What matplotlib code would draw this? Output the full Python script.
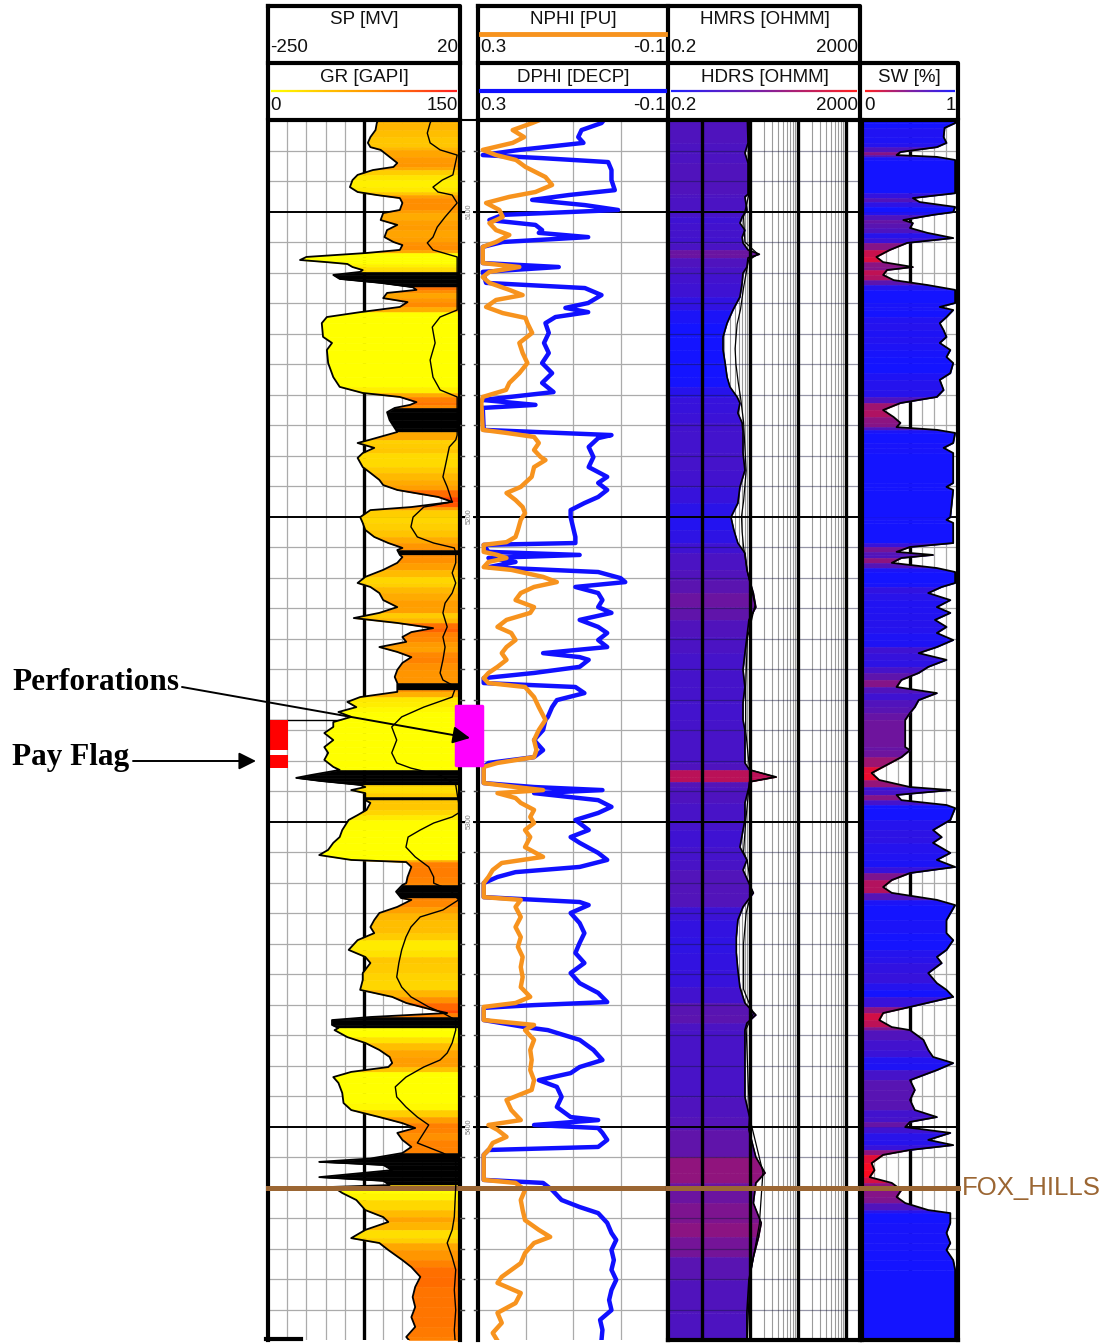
import numpy as np
import matplotlib
matplotlib.use("Agg")
import matplotlib.pyplot as plt
from matplotlib.colors import LinearSegmentedColormap, Normalize, LogNorm
from matplotlib.patches import Rectangle
from matplotlib.collections import LineCollection
from matplotlib.ticker import NullLocator
import matplotlib.transforms as mtransforms

plt.rcParams['font.family'] = ['Liberation Sans', 'DejaVu Sans']

# ---------------------------------------------------------------- well data
TOP_DEPTH, BASE_DEPTH = 5070.0, 5470.0

gr_depth = [5070.0, 5071.0, 5073.3, 5075.6, 5077.5, 5078.9, 5079.8, 5082.1, 5084.1, 5085.4,
            5086.4, 5088.0, 5089.7, 5092.0, 5093.6, 5094.6, 5095.6, 5097.2, 5099.5, 5100.5,
            5102.8, 5104.4, 5106.1, 5108.4, 5110.0, 5111.0, 5112.6, 5113.6, 5114.9, 5115.9,
            5116.6, 5117.2, 5118.2, 5119.2, 5119.8, 5120.8, 5122.1, 5123.4, 5124.8, 5125.7,
            5126.7, 5128.4, 5129.7, 5131.3, 5133.0, 5134.6, 5136.6, 5141.1, 5143.1, 5145.4,
            5149.7, 5154.3, 5157.5, 5159.5, 5160.8, 5162.5, 5163.4, 5164.4, 5165.8, 5168.4,
            5171.0, 5172.3, 5174.9, 5175.9, 5177.5, 5179.2, 5180.8, 5183.8, 5185.7, 5188.0,
            5189.7, 5191.3, 5193.6, 5195.2, 5196.9, 5197.9, 5200.2, 5202.1, 5204.4, 5206.7,
            5208.7, 5210.3, 5211.0, 5212.6, 5213.3, 5215.2, 5217.5, 5219.8, 5221.8, 5223.1,
            5225.1, 5227.4, 5229.7, 5231.6, 5233.3, 5234.9, 5236.6, 5237.9, 5239.5, 5241.1,
            5242.8, 5244.4, 5246.1, 5248.0, 5250.3, 5252.6, 5254.6, 5256.9, 5257.5, 5259.2,
            5260.8, 5262.5, 5264.1, 5265.7, 5267.4, 5269.0, 5271.0, 5273.3, 5275.6, 5277.5,
            5279.8, 5282.1, 5283.1, 5284.8, 5285.7, 5286.7, 5288.0, 5288.7, 5289.7, 5290.7,
            5292.0, 5293.0, 5293.9, 5296.2, 5297.9, 5299.5, 5302.8, 5305.1, 5307.0, 5309.3,
            5311.0, 5312.6, 5313.3, 5314.9, 5318.2, 5320.2, 5320.8, 5323.0, 5325.1, 5325.7,
            5328.0, 5330.0, 5332.3, 5334.6, 5336.6, 5338.9, 5342.1, 5344.4, 5346.4, 5349.7,
            5352.0, 5355.2, 5357.5, 5359.5, 5361.8, 5362.8, 5364.1, 5365.1, 5366.7, 5367.7,
            5368.4, 5370.7, 5372.6, 5374.9, 5377.2, 5379.2, 5380.5, 5382.1, 5383.8, 5385.7,
            5389.0, 5392.3, 5394.6, 5396.9, 5398.9, 5400.5, 5402.1, 5404.4, 5406.7, 5408.7,
            5410.5, 5411.6, 5412.6, 5414.3, 5416.6, 5417.8, 5419.2, 5419.8, 5421.8, 5424.1,
            5427.4, 5429.7, 5431.3, 5433.9, 5436.6, 5438.2, 5440.5, 5443.8, 5446.1, 5449.3,
            5452.6, 5455.9, 5459.2, 5462.5, 5465.7, 5469.0, 5470.0]
gr_api = [86, 85, 84, 80, 78, 80, 88, 95, 101, 98,
          82, 70, 66, 64, 70, 85, 103, 105, 103, 90,
          88, 101, 93, 91, 98, 105, 103, 77, 30, 25,
          46, 62, 66, 74, 72, 51, 56, 88, 113, 116,
          93, 90, 109, 103, 72, 46, 42, 43, 50, 46,
          47, 51, 56, 74, 103, 116, 111, 99, 93, 95,
          99, 101, 79, 70, 83, 74, 70, 74, 80, 87,
          90, 101, 133, 144, 112, 80, 72, 74, 76, 83,
          94, 105, 101, 103, 105, 101, 90, 76, 70, 80,
          87, 90, 101, 87, 67, 101, 129, 112, 105, 108,
          87, 101, 112, 105, 101, 99, 101, 101, 101, 72,
          62, 69, 55, 65, 51, 51, 44, 51, 44, 47,
          44, 51, 56, 33, 22, 41, 72, 76, 65, 76,
          76, 76, 80, 77, 70, 63, 58, 56, 51, 47,
          40, 65, 108, 112, 109, 108, 105, 100, 104, 112,
          101, 87, 83, 80, 83, 70, 63, 76, 80, 74,
          74, 72, 97, 108, 129, 140, 80, 50, 50, 55,
          52, 62, 76, 87, 95, 97, 94, 65, 51, 55,
          58, 59, 65, 87, 105, 115, 101, 105, 112, 105,
          80, 40, 90, 97, 40, 90, 95, 51, 58, 69,
          76, 90, 94, 76, 65, 87, 94, 105, 112, 119,
          115, 113, 115, 112, 115, 108, 110]

coal_top = [5119.8, 5164.4, 5211.0, 5254.6, 5283.1, 5292.0, 5320.8, 5364.1, 5408.7]
coal_base = [5124.8, 5172.3, 5212.6, 5256.9, 5288.0, 5293.0, 5325.1, 5367.7, 5419.2]

sp_depth = [5070.0, 5071.0, 5074.3, 5077.5, 5079.8, 5081.5, 5088.0, 5089.7, 5092.0, 5093.6,
            5094.6, 5097.2, 5101.8, 5105.1, 5108.4, 5110.3, 5112.6, 5114.9, 5132.3, 5134.6,
            5137.9, 5143.1, 5148.7, 5154.3, 5158.5, 5160.8, 5173.3, 5174.9, 5177.2, 5180.5,
            5183.8, 5187.0, 5190.3, 5195.2, 5196.9, 5200.2, 5203.4, 5206.7, 5208.7, 5210.3,
            5212.0, 5215.2, 5218.5, 5221.8, 5225.1, 5228.4, 5231.6, 5236.2, 5239.5, 5242.8,
            5247.0, 5251.3, 5253.6, 5255.9, 5259.2, 5262.5, 5265.7, 5269.0, 5273.3, 5277.5,
            5280.8, 5282.5, 5284.8, 5288.0, 5293.9, 5297.2, 5298.5, 5300.5, 5302.8, 5305.1,
            5308.4, 5311.6, 5314.9, 5318.2, 5320.2, 5322.5, 5325.7, 5329.0, 5331.3, 5334.6,
            5337.9, 5342.1, 5346.4, 5351.0, 5354.3, 5357.5, 5360.8, 5362.8, 5365.1, 5368.4,
            5372.6, 5375.9, 5378.2, 5380.5, 5383.8, 5387.0, 5390.3, 5393.6, 5396.9, 5399.5,
            5402.1, 5405.4, 5408.7, 5411.0, 5419.8, 5429.7, 5433.9, 5438.2, 5442.8, 5447.0,
            5453.6, 5460.2, 5466.7, 5470.0]
sp_mv = [-20, -22, -26, -22, -8, 16, 10, -5, -18, -11,
         9, 16, -1, -12, -18, -26, -18, 16, 16, -8,
         -19, -15, -22, -18, -8, 16, 16, 14, 5, 2,
         -1, -4, 2, 9, -31, -46, -49, -40, -17, 12,
         14, 14, 9, 14, 9, -1, -4, 2, -4, -1,
         -4, -8, -4, 14, 9, -31, -62, -76, -69, -76,
         -69, -49, -8, 14, 18, 18, 9, -17, -36, -53,
         -56, -43, -24, -17, -17, 6, 18, -4, -36, -49,
         -56, -62, -66, -69, -62, -49, -24, -4, 14, 14,
         9, 2, -8, -31, -56, -71, -69, -56, -40, -24,
         -31, -40, -4, 14, 14, 12, 9, 2, 9, 14,
         12, 14, 12, 13]

nphi_depth = [5070.0, 5071.0, 5073.3, 5075.6, 5077.5, 5079.8, 5081.5, 5083.1, 5085.4, 5088.7,
              5091.3, 5093.6, 5095.2, 5097.2, 5099.5, 5101.8, 5103.8, 5106.1, 5107.7, 5110.0,
              5111.6, 5116.9, 5118.2, 5119.8, 5121.5, 5123.4, 5125.7, 5127.4, 5129.0, 5131.3,
              5133.3, 5134.9, 5136.6, 5139.8, 5143.1, 5146.4, 5149.7, 5153.0, 5156.2, 5158.5,
              5160.8, 5162.8, 5171.6, 5172.6, 5173.9, 5175.9, 5178.2, 5180.5, 5181.5, 5183.8,
              5187.0, 5190.3, 5192.3, 5194.6, 5196.9, 5198.9, 5201.1, 5204.4, 5206.7, 5208.4,
              5209.3, 5211.6, 5212.6, 5213.6, 5214.9, 5216.6, 5217.5, 5219.8, 5221.5, 5223.1,
              5225.1, 5227.4, 5229.7, 5231.6, 5233.9, 5236.2, 5238.2, 5240.5, 5242.8, 5244.8,
              5247.0, 5249.3, 5251.3, 5253.0, 5254.6, 5255.9, 5259.2, 5262.5, 5266.7, 5270.0,
              5273.3, 5276.6, 5278.9, 5280.8, 5282.1, 5287.4, 5288.7, 5289.7, 5290.7, 5292.3,
              5293.9, 5296.2, 5298.5, 5300.5, 5302.8, 5305.1, 5308.4, 5311.6, 5313.6, 5315.9,
              5318.2, 5320.2, 5324.8, 5325.7, 5328.0, 5331.3, 5334.6, 5337.9, 5341.1, 5344.4,
              5347.7, 5351.0, 5354.3, 5357.5, 5359.5, 5360.8, 5365.1, 5366.7, 5368.4, 5371.6,
              5374.9, 5378.2, 5381.5, 5384.8, 5388.0, 5391.3, 5394.6, 5397.9, 5399.5, 5401.1,
              5403.4, 5405.4, 5407.7, 5409.3, 5417.5, 5418.5, 5420.8, 5424.1, 5427.4, 5430.7,
              5433.9, 5436.2, 5438.2, 5441.5, 5444.8, 5449.3, 5451.3, 5454.6, 5457.9, 5461.1,
              5464.4, 5467.7, 5470.0]
nphi_pu = [0.17, 0.186, 0.227, 0.203, 0.227, 0.29, 0.262, 0.22, 0.2, 0.158,
           0.144, 0.179, 0.234, 0.283, 0.255, 0.248, 0.276, 0.262, 0.234, 0.262,
           0.29, 0.29, 0.213, 0.276, 0.29, 0.276, 0.234, 0.206, 0.262, 0.283,
           0.248, 0.2, 0.196, 0.186, 0.213, 0.206, 0.196, 0.213, 0.234, 0.241,
           0.29, 0.293, 0.29, 0.24, 0.182, 0.172, 0.182, 0.168, 0.158, 0.182,
           0.187, 0.21, 0.24, 0.221, 0.206, 0.201, 0.21, 0.216, 0.221, 0.24,
           0.288, 0.288, 0.259, 0.24, 0.278, 0.288, 0.23, 0.163, 0.134, 0.182,
           0.21, 0.221, 0.182, 0.19, 0.24, 0.259, 0.23, 0.221, 0.24, 0.25,
           0.24, 0.259, 0.278, 0.288, 0.278, 0.201, 0.182, 0.172, 0.158, 0.172,
           0.182, 0.177, 0.182, 0.259, 0.288, 0.288, 0.221, 0.163, 0.259, 0.221,
           0.21, 0.182, 0.19, 0.182, 0.201, 0.19, 0.201, 0.163, 0.25, 0.269,
           0.278, 0.288, 0.288, 0.21, 0.221, 0.21, 0.221, 0.21, 0.216, 0.206,
           0.21, 0.206, 0.21, 0.19, 0.221, 0.288, 0.288, 0.182, 0.201, 0.182,
           0.19, 0.187, 0.19, 0.182, 0.187, 0.24, 0.23, 0.21, 0.278, 0.259,
           0.24, 0.269, 0.278, 0.288, 0.288, 0.221, 0.201, 0.21, 0.206, 0.201,
           0.172, 0.148, 0.182, 0.201, 0.21, 0.25, 0.259, 0.21, 0.221, 0.259,
           0.25, 0.269, 0.26]

dphi_depth = [5070.0, 5071.0, 5073.3, 5075.6, 5077.5, 5079.8, 5081.5, 5082.5, 5083.8, 5086.4,
              5089.7, 5093.0, 5094.6, 5096.2, 5097.9, 5099.5, 5101.1, 5102.8, 5104.4, 5106.1,
              5107.0, 5108.4, 5110.0, 5111.6, 5116.9, 5118.2, 5119.8, 5123.4, 5125.1, 5127.4,
              5130.0, 5131.6, 5133.0, 5134.6, 5136.6, 5139.8, 5143.1, 5146.4, 5149.7, 5153.0,
              5156.2, 5159.2, 5160.8, 5161.8, 5163.4, 5164.4, 5171.6, 5173.3, 5174.3, 5177.2,
              5180.5, 5183.8, 5187.0, 5189.0, 5191.3, 5193.6, 5195.6, 5197.9, 5200.2, 5203.4,
              5206.7, 5208.7, 5209.3, 5211.6, 5212.6, 5213.6, 5214.9, 5216.6, 5218.2, 5220.2,
              5221.5, 5223.1, 5225.1, 5227.4, 5229.7, 5231.6, 5233.9, 5236.2, 5238.2, 5240.5,
              5242.8, 5244.8, 5246.1, 5247.0, 5249.3, 5251.3, 5253.0, 5254.6, 5255.9, 5257.9,
              5260.2, 5262.5, 5265.7, 5266.7, 5270.0, 5273.3, 5276.6, 5278.9, 5280.8, 5282.1,
              5287.4, 5288.7, 5289.7, 5290.7, 5293.0, 5295.2, 5297.2, 5299.5, 5302.8, 5305.1,
              5307.0, 5310.3, 5312.6, 5314.9, 5316.6, 5318.2, 5320.2, 5324.8, 5326.4, 5327.4,
              5330.0, 5333.3, 5336.6, 5339.8, 5343.1, 5346.4, 5349.7, 5353.0, 5356.2, 5359.2,
              5360.2, 5361.1, 5365.1, 5367.4, 5368.4, 5371.6, 5374.9, 5378.2, 5380.5, 5382.5,
              5384.8, 5387.0, 5390.3, 5393.6, 5396.9, 5397.9, 5399.5, 5400.5, 5402.1, 5404.4,
              5406.7, 5407.7, 5409.3, 5417.5, 5418.5, 5420.8, 5424.1, 5426.4, 5428.4, 5431.6,
              5434.9, 5437.2, 5440.5, 5443.8, 5447.0, 5450.3, 5453.6, 5456.9, 5460.2, 5463.4,
              5466.7, 5470.0]
dphi_decp = [0.035, 0.04, 0.082, 0.089, 0.078, 0.213, 0.29, 0.165, 0.026, 0.019,
             0.019, 0.012, 0.109, 0.186, 0.075, 0.005, 0.248, 0.276, 0.179, 0.165,
             0.172, 0.068, 0.248, 0.29, 0.29, 0.13, 0.29, 0.283, 0.075, 0.04,
             0.068, 0.116, 0.068, 0.137, 0.158, 0.151, 0.161, 0.151, 0.165, 0.144,
             0.165, 0.141, 0.234, 0.29, 0.179, 0.29, 0.288, 0.019, 0.047, 0.067,
             0.057, 0.067, 0.028, 0.047, 0.028, 0.047, 0.076, 0.105, 0.105, 0.1,
             0.095, 0.095, 0.288, 0.278, 0.086, 0.278, 0.221, 0.278, 0.047, 0.0,
             -0.01, 0.095, 0.047, 0.038, 0.047, 0.019, 0.086, 0.047, 0.028, 0.047,
             0.028, 0.163, 0.086, 0.067, 0.086, 0.182, 0.288, 0.288, 0.095, 0.076,
             0.134, 0.144, 0.153, 0.158, 0.163, 0.182, 0.163, 0.182, 0.278, 0.288,
             0.288, 0.182, 0.038, 0.182, 0.047, 0.019, 0.047, 0.095, 0.067, 0.105,
             0.086, 0.047, 0.028, 0.086, 0.221, 0.259, 0.288, 0.288, 0.086, 0.067,
             0.105, 0.086, 0.076, 0.086, 0.095, 0.076, 0.105, 0.086, 0.047, 0.028,
             0.182, 0.288, 0.288, 0.201, 0.153, 0.086, 0.057, 0.038, 0.086, 0.105,
             0.172, 0.134, 0.124, 0.134, 0.105, 0.047, 0.182, 0.047, 0.038, 0.028,
             0.047, 0.278, 0.288, 0.288, 0.163, 0.144, 0.124, 0.086, 0.047, 0.028,
             0.019, 0.009, 0.019, 0.014, 0.019, 0.009, 0.019, 0.024, 0.019, 0.043,
             0.038, 0.04]

hdrs_depth = [5070.0, 5077.5, 5080.8, 5084.1, 5094.3, 5095.2, 5099.5, 5101.8, 5103.8, 5106.1,
              5108.4, 5110.3, 5112.6, 5114.0, 5115.2, 5118.2, 5120.2, 5123.4, 5128.0, 5132.3,
              5136.6, 5141.1, 5145.4, 5149.7, 5154.3, 5157.5, 5160.8, 5162.8, 5166.1, 5169.3,
              5172.0, 5179.2, 5184.8, 5190.3, 5195.6, 5200.2, 5204.4, 5208.7, 5212.0, 5217.5,
              5220.8, 5225.1, 5229.7, 5233.9, 5239.5, 5244.8, 5250.3, 5255.9, 5261.1, 5266.7,
              5270.0, 5280.8, 5283.1, 5285.4, 5287.0, 5288.7, 5293.9, 5299.5, 5302.8, 5308.4,
              5312.6, 5315.9, 5323.4, 5328.0, 5332.3, 5337.9, 5343.1, 5348.7, 5354.3, 5359.5,
              5363.4, 5366.1, 5368.4, 5390.3, 5396.9, 5401.1, 5410.0, 5415.2, 5418.5, 5425.1,
              5431.6, 5436.2, 5442.8, 5450.3, 5461.1, 5470.0]
hdrs_ohmm = [9.0, 9.3, 8.0, 9.3, 9.3, 8.0, 8.8, 7.0, 6.3, 8.0,
             7.0, 7.3, 9.3, 16.0, 9.3, 8.8, 7.3, 7.0, 6.3, 4.5,
             3.4, 2.8, 2.8, 3.1, 3.4, 3.9, 5.5, 6.3, 5.7, 7.0,
             7.3, 7.3, 8.0, 6.3, 5.7, 4.1, 4.7, 5.7, 8.0, 8.8,
             10.0, 12.0, 13.5, 9.7, 8.8, 8.0, 7.3, 8.0, 7.3, 7.3,
             8.0, 8.0, 10.0, 36.0, 10.0, 9.7, 8.0, 8.0, 7.3, 6.3,
             8.8, 7.3, 12.0, 7.3, 5.7, 5.3, 5.3, 5.7, 6.3, 8.0,
             13.5, 8.8, 8.0, 8.0, 10.0, 9.7, 13.5, 21.0, 13.5, 12.0,
             17.5, 15.4, 12.0, 9.7, 8.8, 8.8]

hmrs_depth = [5070.0, 5095.0, 5101.8, 5110.0, 5114.0, 5116.0, 5125.0, 5132.0, 5137.0, 5145.0,
              5150.0, 5156.0, 5161.0, 5169.0, 5185.0, 5195.0, 5200.0, 5205.0, 5210.0, 5218.0,
              5229.0, 5240.0, 5256.0, 5270.0, 5283.0, 5285.4, 5287.0, 5300.0, 5310.0, 5313.0,
              5323.0, 5330.0, 5340.0, 5355.0, 5363.0, 5368.0, 5397.0, 5415.0, 5432.0, 5450.0,
              5470.0]
hmrs_ohmm = [9.5, 9.5, 7.5, 8.0, 15.0, 9.5, 7.5, 6.5, 5.5, 5.0,
             5.2, 5.8, 6.5, 7.5, 8.5, 7.5, 6.8, 7.0, 7.5, 9.0,
             13.0, 9.0, 8.3, 8.3, 10.0, 34.0, 10.0, 8.3, 7.5, 9.0,
             11.0, 8.5, 7.5, 7.5, 12.0, 8.5, 10.0, 19.0, 16.0, 10.0,
             9.0]

sw_depth = [5070.0, 5071.0, 5072.6, 5075.6, 5077.5, 5078.9, 5080.5, 5081.5, 5082.1, 5083.1,
            5094.0, 5095.6, 5096.9, 5098.5, 5100.2, 5101.1, 5102.8, 5103.8, 5105.4, 5107.0,
            5108.7, 5110.3, 5112.6, 5114.9, 5116.6, 5118.2, 5119.2, 5120.8, 5122.5, 5124.1,
            5125.7, 5130.0, 5131.3, 5132.3, 5134.6, 5136.6, 5138.9, 5141.1, 5143.1, 5145.4,
            5147.7, 5149.7, 5153.0, 5155.2, 5158.5, 5160.8, 5162.8, 5165.1, 5167.4, 5169.3,
            5170.7, 5171.6, 5172.6, 5175.9, 5177.5, 5179.2, 5189.0, 5190.3, 5191.3, 5200.2,
            5201.1, 5202.1, 5208.7, 5210.0, 5211.6, 5212.6, 5213.6, 5215.2, 5216.9, 5218.2,
            5221.8, 5223.1, 5225.1, 5227.4, 5229.7, 5231.6, 5233.9, 5236.2, 5238.2, 5240.5,
            5242.8, 5244.8, 5247.0, 5249.3, 5251.3, 5253.6, 5255.9, 5257.9, 5260.2, 5262.5,
            5264.4, 5266.7, 5275.6, 5276.6, 5278.9, 5282.1, 5284.1, 5286.4, 5288.7, 5289.7,
            5291.3, 5293.0, 5294.6, 5295.6, 5299.5, 5302.8, 5305.1, 5307.0, 5310.3, 5312.6,
            5314.9, 5316.9, 5319.2, 5321.5, 5323.4, 5325.7, 5327.4, 5332.3, 5336.6, 5338.9,
            5342.1, 5344.4, 5346.4, 5349.7, 5353.0, 5355.2, 5357.5, 5360.8, 5362.8, 5365.1,
            5367.4, 5368.4, 5371.6, 5374.9, 5377.2, 5379.2, 5381.5, 5384.8, 5388.0, 5391.3,
            5394.6, 5396.9, 5398.5, 5400.2, 5402.1, 5404.4, 5406.1, 5407.7, 5409.3, 5412.0,
            5414.3, 5416.6, 5418.5, 5420.8, 5423.1, 5425.1, 5427.4, 5428.4, 5431.6, 5434.9,
            5438.2, 5440.5, 5443.8, 5447.0, 5470.0]
sw_frac = [0.97, 0.97, 0.86, 0.85, 0.88, 0.78, 0.40, 0.36, 0.78, 0.97,
           0.97, 0.53, 0.60, 0.97, 0.95, 0.74, 0.43, 0.53, 0.50, 0.68,
           0.95, 0.47, 0.29, 0.15, 0.22, 0.53, 0.26, 0.22, 0.33, 0.68,
           0.97, 0.97, 0.81, 0.95, 0.88, 0.81, 0.85, 0.88, 0.81, 0.92,
           0.88, 0.95, 0.92, 0.81, 0.85, 0.78, 0.40, 0.22, 0.33, 0.40,
           0.36, 0.78, 0.97, 0.95, 0.85, 0.95, 0.95, 0.88, 0.95, 0.92,
           0.88, 0.95, 0.95, 0.50, 0.36, 0.74, 0.41, 0.31, 0.78, 0.97,
           0.97, 0.83, 0.69, 0.92, 0.78, 0.92, 0.76, 0.88, 0.78, 0.95,
           0.78, 0.59, 0.88, 0.69, 0.59, 0.41, 0.36, 0.78, 0.59, 0.55,
           0.50, 0.45, 0.45, 0.50, 0.41, 0.22, 0.10, 0.18, 0.50, 0.92,
           0.36, 0.41, 0.88, 0.97, 0.92, 0.74, 0.83, 0.74, 0.92, 0.78,
           0.97, 0.50, 0.31, 0.22, 0.31, 0.78, 0.97, 0.88, 0.88, 0.95,
           0.88, 0.78, 0.83, 0.69, 0.78, 0.88, 0.95, 0.50, 0.22, 0.18,
           0.31, 0.50, 0.64, 0.69, 0.74, 0.95, 0.78, 0.50, 0.55, 0.50,
           0.55, 0.78, 0.50, 0.45, 0.92, 0.69, 0.95, 0.50, 0.22, 0.10,
           0.13, 0.08, 0.31, 0.41, 0.36, 0.45, 0.69, 0.92, 0.92, 0.88,
           0.92, 0.88, 0.95, 0.97, 0.97]

pay_top = [5266.7, 5278.2]
pay_base = [5276.6, 5282.5]
perf_top = [5262.0]
perf_base = [5281.5]
fox_hills_depth = 5420.2
fox_hills_name = "FOX_HILLS"

# ---------------------------------------------------------------- figure
W, H = 1117, 1343
fig = plt.figure(figsize=(W / 100, H / 100), dpi=100)


def px_axes(x0, x1, y0, y1):
    return fig.add_axes([x0 / W, 1 - y1 / H, (x1 - x0) / W, (y1 - y0) / H])


Y0, Y1 = 120, 1340
ax_gr = px_axes(268, 460, Y0, Y1)
ax_por = px_axes(478, 668, Y0, Y1)
ax_res = px_axes(668, 860, Y0, Y1)
ax_sw = px_axes(862, 958, Y0, Y1)
ax_dp = px_axes(460, 478, Y0, Y1)

ax_gr.set_xlim(0, 150)
ax_por.set_xlim(0.3, -0.1)
ax_res.set_xscale('log')
ax_res.set_xlim(0.2, 2000)
ax_sw.set_xlim(0, 1)
ax_dp.set_xlim(0, 1)

for ax in (ax_gr, ax_por, ax_res, ax_sw, ax_dp):
    ax.set_ylim(BASE_DEPTH, TOP_DEPTH)
    ax.set_xticks([])
    ax.set_yticks([])
    ax.xaxis.set_minor_locator(NullLocator())
    ax.yaxis.set_minor_locator(NullLocator())
    for side in ('left', 'right'):
        ax.spines[side].set_linewidth(3)
    ax.spines['top'].set_linewidth(1.5)
    ax.spines['bottom'].set_visible(False)
    for s in ax.spines.values():
        s.set_zorder(6)

ax_dp.patch.set_visible(False)
ax_dp.spines['left'].set_visible(False)
ax_dp.spines['right'].set_visible(False)
ax_res.spines['bottom'].set_visible(True)
ax_res.spines['bottom'].set_linewidth(3)
ax_sw.spines['bottom'].set_visible(True)
ax_sw.spines['bottom'].set_linewidth(3)

GRID_GREY = '#ababab'
minor_depths = [d for d in np.arange(TOP_DEPTH + 10, BASE_DEPTH, 10) if d % 100 != 0]
major_depths = [d for d in np.arange(TOP_DEPTH + 10, BASE_DEPTH, 10) if d % 100 == 0]


def depth_grid(ax, minor_color=GRID_GREY, z_minor=1, z_major=1.5, alpha=1.0):
    for d in minor_depths:
        ax.axhline(d, color=minor_color, lw=0.9, zorder=z_minor, alpha=alpha)
    for d in major_depths:
        ax.axhline(d, color='black', lw=1.4, zorder=z_major)


def banded_fill(ax, depth, vals, base, cmap, norm, dark=None, z=2):
    depth = np.asarray(depth, dtype=float)
    vals = np.asarray(vals, dtype=float)
    for i in range(len(depth) - 1):
        seg_d = depth[i:i + 2]
        seg_v = vals[i:i + 2]
        mid = seg_d.mean()
        if dark is not None and any(t <= mid <= b for t, b in dark):
            c = 'black'
        else:
            c = cmap(norm(seg_v.mean()))
        ax.fill_betweenx(seg_d, seg_v, base, facecolor=c, edgecolor=c, lw=0.4, zorder=z)


# ---------------------------------------------------------------- track 1: GR / SP
for v in np.arange(15, 150, 15):
    if v == 75:
        ax_gr.axvline(v, color='black', lw=2.4, zorder=1.2)
    else:
        ax_gr.axvline(v, color=GRID_GREY, lw=0.9, zorder=1)
depth_grid(ax_gr)

gr_cmap = LinearSegmentedColormap.from_list(
    'gr', [(0, '#ffff00'), (0.4, '#ffff00'), (0.5, '#ffd000'), (0.6, '#ffa800'),
           (0.7, '#ff8c00'), (0.8, '#ff6400'), (1.0, '#ff3000')])
banded_fill(ax_gr, gr_depth, gr_api, 150, gr_cmap, Normalize(0, 150),
            dark=list(zip(coal_top, coal_base)))
ax_gr.plot(gr_api, gr_depth, color='black', lw=1.3, zorder=3)

for t, b in zip(pay_top, pay_base):
    ax_gr.barh((t + b) / 2, 14, left=1.5, height=b - t, color='#ff0000', zorder=4)
ax_gr.axhline(pay_top[0], color='black', lw=1.0, zorder=1.6)

ax_sp = ax_gr.twiny()
ax_sp.set_xlim(-250, 20)
ax_sp.set_ylim(BASE_DEPTH, TOP_DEPTH)
ax_sp.set_xticks([])
for s in ax_sp.spines.values():
    s.set_visible(False)
ax_sp.plot(sp_mv, sp_depth, color='black', lw=1.0, zorder=3)

# ---------------------------------------------------------------- track 2: porosity
for v in (0.2, 0.1, 0.0):
    ax_por.axvline(v, color=GRID_GREY, lw=0.9, zorder=1)
depth_grid(ax_por)
ax_por.plot(dphi_decp, dphi_depth, color='#1010ff', lw=3.2, zorder=3,
            solid_joinstyle='round')
ax_por.plot(nphi_pu, nphi_depth, color='#f7931e', lw=3.2, zorder=3.1,
            solid_joinstyle='round')

# ---------------------------------------------------------------- track 3: resistivity
for dec in (0.1, 1, 10, 100, 1000):
    for k in range(2, 10):
        v = k * dec
        if 0.2 < v < 2000:
            ax_res.axvline(v, color='#9a9a9a', lw=0.8, zorder=1)
res_cmap = LinearSegmentedColormap.from_list(
    'res', ['#1414ff', '#3a12d8', '#5a14b0', '#a0146e', '#ff0a1e'])
banded_fill(ax_res, hdrs_depth, hdrs_ohmm, 0.2, res_cmap, LogNorm(3.5, 35))
for v in (1, 10, 100, 1000):
    ax_res.axvline(v, color='black', lw=2.4, zorder=4)
depth_grid(ax_res, minor_color='#14143c', z_minor=3.5, z_major=4, alpha=0.45)
ax_res.plot(hmrs_ohmm, hmrs_depth, color='black', lw=0.9, zorder=5)
ax_res.plot(hdrs_ohmm, hdrs_depth, color='black', lw=1.2, zorder=5)

# ---------------------------------------------------------------- track 4: SW
for v in np.arange(0.125, 1.0, 0.125):
    if abs(v - 0.5) < 1e-9:
        ax_sw.axvline(v, color='black', lw=2.4, zorder=1.2)
    else:
        ax_sw.axvline(v, color=GRID_GREY, lw=0.9, zorder=1)
depth_grid(ax_sw)
banded_fill(ax_sw, sw_depth, sw_frac, 0, res_cmap.reversed(), Normalize(0.1, 0.92))
ax_sw.plot(sw_frac, sw_depth, color='black', lw=1.3, zorder=3)

# ---------------------------------------------------------------- depth track
for d in np.arange(TOP_DEPTH + 10, BASE_DEPTH, 10):
    ax_dp.plot([0, 0.2], [d, d], color='#444444', lw=1.0, zorder=2)
    ax_dp.plot([0.8, 1.0], [d, d], color='#444444', lw=1.0, zorder=2)
for d in major_depths:
    ax_dp.axhline(d, color='black', lw=1.4, zorder=2)
    ax_dp.text(0.5, d, f"{int(d)}", rotation=90, ha='center', va='center',
               fontsize=5, color='#777777', zorder=3,
               bbox=dict(facecolor='white', edgecolor='none', pad=0.6))

blend = mtransforms.blended_transform_factory(ax_dp.transAxes, ax_dp.transData)
for t, b in zip(perf_top, perf_base):
    ax_dp.add_patch(Rectangle((-0.2, t), 1.4, b - t, transform=blend,
                              facecolor='#ff00ff', edgecolor='#ff00ff', lw=2.5,
                              joinstyle='round', clip_on=False, zorder=8))

# ---------------------------------------------------------------- formation top
for ax in (ax_gr, ax_por, ax_res, ax_sw, ax_dp):
    ax.axhline(fox_hills_depth, color='#9b6633', lw=3.6, zorder=7, clip_on=False)
ax_sw.text(1.04, fox_hills_depth, fox_hills_name, color='#9b6633', fontsize=18.5,
           ha='left', va='center', clip_on=False,
           transform=mtransforms.blended_transform_factory(ax_sw.transAxes, ax_sw.transData))

# ---------------------------------------------------------------- header and callouts
ax_h = fig.add_axes([0, 0, 1, 1], zorder=10)
ax_h.set_xlim(0, W)
ax_h.set_ylim(H, 0)
ax_h.axis('off')
ax_h.patch.set_visible(False)

K = dict(color='black', lw=3, solid_capstyle='projecting')
ax_h.plot([268, 460, 460, 268, 268], [6, 6, 120, 120, 6], **K)
ax_h.plot([268, 460], [63, 63], **K)
ax_h.plot([478, 860, 860, 478, 478], [6, 6, 120, 120, 6], **K)
ax_h.plot([668, 668], [6, 120], **K)
ax_h.plot([478, 958, 958, 860], [63, 63, 120, 120], **K)
ax_h.plot([266, 301], [1339, 1339], **K)


def gradient_rule(x0, x1, y, colors, lw):
    xs = np.linspace(x0, x1, 80)
    segs = [[(xs[i], y), (xs[i + 1], y)] for i in range(len(xs) - 1)]
    cm = LinearSegmentedColormap.from_list('rule', colors)
    cols = [cm(i / (len(segs) - 1)) for i in range(len(segs))]
    ax_h.add_collection(LineCollection(segs, colors=cols, lw=lw))


ax_h.plot([481, 665], [34, 34], color='#f7931e', lw=3.5)
ax_h.plot([481, 665], [91, 91], color='#1010ff', lw=3.0)
gradient_rule(271, 457, 91, ['#ffff00', '#ff9900', '#ff2020'], 1.6)
gradient_rule(671, 857, 91, ['#2020ff', '#8020a0', '#ff2020'], 1.6)
gradient_rule(865, 955, 91, ['#ff2020', '#8020a0', '#2020ff'], 1.6)

TS = 13.5
headers = [
    (364, 20, "SP [MV]", "-250", "20", 48, 270, 458),
    (364, 77, "GR [GAPI]", "0", "150", 105, 270, 458),
    (573, 20, "NPHI [PU]", "0.3", "-0.1", 48, 480, 666),
    (573, 77, "DPHI [DECP]", "0.3", "-0.1", 105, 480, 666),
    (765, 20, "HMRS [OHMM]", "0.2", "2000", 48, 670, 858),
    (765, 77, "HDRS [OHMM]", "0.2", "2000", 105, 670, 858),
    (909, 77, "SW [%]", "0", "1", 105, 864, 956),
]
for cx, ty, title, lo, hi, sy, lx, rx in headers:
    ax_h.text(cx, ty, title, ha='center', va='center', fontsize=TS, color='#111111')
    ax_h.text(lx, sy, lo, ha='left', va='center', fontsize=TS, color='#111111')
    ax_h.text(rx, sy, hi, ha='right', va='center', fontsize=TS, color='#111111')

serif = ['Liberation Serif', 'DejaVu Serif']
ax_h.text(12, 683, "Perforations", family=serif, fontweight='bold', fontsize=22.5,
          ha='left', va='center')
ax_h.text(12, 757, "Pay Flag", family=serif, fontweight='bold', fontsize=22.5,
          ha='left', va='center')
ax_h.annotate('', xy=(470, 738), xytext=(182, 687),
              arrowprops=dict(arrowstyle='-|>', color='black', lw=1.4,
                              mutation_scale=26, shrinkA=0, shrinkB=0))
ax_h.annotate('', xy=(256, 761), xytext=(133, 761),
              arrowprops=dict(arrowstyle='-|>', color='black', lw=1.4,
                              mutation_scale=26, shrinkA=0, shrinkB=0))

fig.savefig("out.png", dpi=100, facecolor='white')
